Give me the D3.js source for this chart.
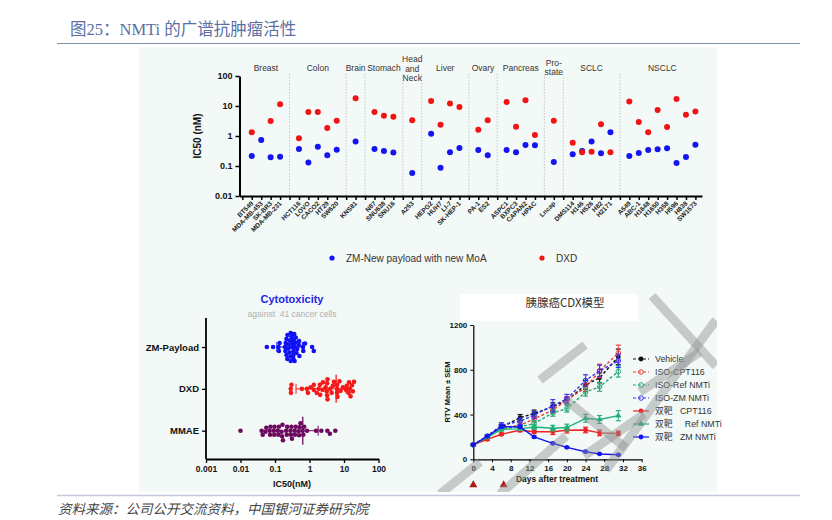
<!DOCTYPE html>
<html>
<head>
<meta charset="utf-8">
<script src="https://cdn.jsdelivr.net/npm/d3@7"></script>
<style>
  body { margin: 0; background: #fff; }
  svg { display: block; font-family: "Liberation Sans", Arial, sans-serif; }
  .pre { white-space: pre; }
</style>
</head>
<body>
<svg id="chart" width="832" height="520"></svg>
<script>
// ---- top panel: IC50 per cell line ----
var cellLines = ["BT549","MDA-MB-453","SK-BR3","MDA-MB-231","HCT116","LOVO","CACO2","HT29","SW620",
  "KNS81","N87","SNU638","SNU16","A253","HEPG2","HUH7","LI-7","SK-HEP-1","PA-1","ES2",
  "ASPC1","BXPC3","CAPAN2","HPAC","Lncap","DMS114","H146","H526","H82","H2171",
  "A549","ABC-1","H1648","H1650","H358","H596","H838","SW1573"];
var tumorTypes = ["Breast","Colon","Brain","Stomach","Head|and|Neck","Liver","Ovary","Pancreas","Pro-|state","SCLC","NSCLC"];
var linesPerType = [4,5,1,3,1,4,2,4,1,5,8];
var zmIC50 = [0.215,0.74,0.195,0.205, 0.37,0.13,0.44,0.227,0.35, 0.65, 0.37,0.316,0.28, 0.058,
  1.19,0.088,0.286,0.4, 0.34,0.23, 0.34,0.286,0.5,0.49, 0.136, 0.245,0.316,0.66,0.264,1.33,
  0.215,0.27,0.34,0.36,0.39,0.126,0.2,0.51];
var dxdIC50 = [1.33,null,3.16,11.4, 0.84,6.3,6.3,1.85,3.24, 18, 6.3,4.75,4.4, 3.33,
  14.7,2.38,12,9.3, 1.62,3.33, 13.6,2.04,15.5,1.08, 3.24, 0.6,0.29,0.3,2.45,0.286,
  14,2.93,1.33,7.4,2,17,5.1,6.5];
var ic50Ticks = [0.01,0.1,1,10,100];

// ---- bottom left: cytotoxicity swarm ----
var payloads = ["ZM-Payload","DXD","MMAE"];
var zmExtra = [0.25,0.3,0.42];
var dxdExtra = [0.9,4.0,8.0,19.5];
var mmaeIC50 = [0.01, 0.041,0.044, 0.053,0.056, 0.07,0.072,0.074, 0.092,0.095,0.097, 0.12,0.125,0.13,
  0.155,0.16,0.165,0.17, 0.21,0.22,0.225, 0.28,0.29,0.3,0.31, 0.37,0.38,0.4, 0.48,0.5,0.52,0.55,
  0.63,0.66,0.7, 0.85, 1.55, 2.2, 3.3, 3.9, 5.6];
var swarmTicks = [0.001,0.01,0.1,1,10,100];

// ---- bottom right: CDX model ----
var days = [0,3,6,10,13,17,20,24,27,31];
var dosingDays = [0,6.5];
var seriesNames = ["Vehicle.","ISO-CPT116","ISO-Ref NMTi","ISO-ZM NMTi","双靶   CPT116","双靶     Ref NMTi","双靶   ZM NMTi"];
var vehicle = [130,202,288,372,410,470,525,665,728,915];
var isoCpt  = [130,198,280,305,360,440,530,640,790,950];
var isoRef  = [130,195,272,290,320,415,452,600,648,785];
var isoZm   = [130,208,305,340,396,478,540,705,790,880];
var dualCpt = [130,178,224,260,246,246,260,262,236,232];
var dualRef = [130,196,268,272,288,278,284,366,356,390];
var dualZm  = [130,205,292,290,200,143,107,68,48,40];
var vehicleSem = [5,12,20,28,30,35,30,40,45,70];
var isoCptSem  = [5,10,15,20,25,30,30,35,60,70];
var isoRefSem  = [5,10,15,20,25,30,30,35,40,50];
var isoZmSem   = [5,12,22,30,30,55,40,50,50,60];
var dualCptSem = [5,10,12,15,15,25,25,25,25,20];
var dualRefSem = [5,10,15,15,20,25,30,35,35,45];
var dualZmSem  = [5,8,12,10,8,8,6,5,4,4];

var svg = d3.select('#chart');

// page header / footer
svg.append('text').attr('x', 70).attr('y', 35)
  .style('font-family', '"Liberation Serif", "Noto Sans CJK SC", serif')
  .style('font-size', '16.5px').attr('fill', '#5b6fa5')
  .text('图25：NMTi 的广谱抗肿瘤活性');
svg.append('line').attr('x1', 57).attr('x2', 800).attr('y1', 43.5).attr('y2', 43.5)
  .attr('stroke', '#7f8fb0').attr('stroke-width', 1.2);
svg.append('rect').attr('x', 139).attr('y', 47).attr('width', 578).attr('height', 445)
  .attr('fill', '#f3f9f6');
svg.append('line').attr('x1', 57).attr('x2', 800).attr('y1', 495.5).attr('y2', 495.5)
  .attr('stroke', '#c6c6dc').attr('stroke-width', 1.5);
svg.append('text').attr('x', 58).attr('y', 514)
  .style('font-family', '"Noto Sans CJK SC", sans-serif').style('font-style', 'italic')
  .style('font-size', '13.5px').attr('fill', '#444')
  .text('资料来源：公司公开交流资料，中国银河证券研究院');

drawTop();
drawSwarm();
drawCdx();
drawWatermark();

function drawTop() {
  // slot index per cell line, one blank slot between tumour types
  var slots = [], groups = [], s = 0;
  linesPerType.forEach(function(n, gi) {
    var first = s;
    for (var i = 0; i < n; i++) { slots.push(s); s++; }
    groups.push({ name: tumorTypes[gi], from: first, to: s - 1, sep: s });
    s++;
  });

  var x = d3.scaleLinear().domain([-1.3, 47.7]).range([239.5, 702]);
  var y = d3.scaleLog().domain([0.01, 100]).range([196, 76]);
  var g = svg.append('g');

  // dotted separators
  g.selectAll('line.sep').data(groups.slice(0, -1)).enter().append('line')
    .attr('x1', function(d) { return x(d.sep); }).attr('x2', function(d) { return x(d.sep); })
    .attr('y1', 74).attr('y2', 196)
    .attr('stroke', '#b8bcbc').attr('stroke-width', 0.8).attr('stroke-dasharray', '1.5,1.5');

  // tumour type labels
  g.selectAll('text.grp').data(groups).enter().append('text')
    .attr('text-anchor', 'middle').style('font-size', '8.5px').attr('fill', '#333')
    .each(function(d) {
      var parts = d.name.split('|');
      var y0 = parts.length === 3 ? 62 : parts.length === 2 ? 65.5 : 71;
      var t = d3.select(this);
      parts.forEach(function(p, i) {
        t.append('tspan').attr('x', x((d.from + d.to) / 2)).attr('y', y0 + i * 9.5).text(p);
      });
    });

  var yAxis = g.append('g').attr('transform', 'translate(' + x(-1.3) + ',0)')
    .call(d3.axisLeft(y).tickValues(ic50Ticks).tickFormat(function(d) { return String(d); }).tickSize(4).tickSizeOuter(0));
  yAxis.select('.domain').attr('stroke-width', 2);
  yAxis.selectAll('.tick line').attr('stroke-width', 1.5);
  yAxis.selectAll('.tick text').style('font-size', '9px').style('font-weight', 'bold').attr('fill', '#111');

  var xAxis = g.append('g').attr('transform', 'translate(0,196)')
    .call(d3.axisBottom(x).tickValues(d3.range(-1, 48)).tickFormat('').tickSize(4).tickSizeOuter(0));
  xAxis.select('.domain').attr('stroke-width', 2);
  xAxis.selectAll('.tick line').attr('stroke-width', 1.5);

  g.selectAll('text.cell').data(cellLines).enter().append('text')
    .attr('transform', function(d, i) { return 'translate(' + (x(slots[i]) + 2) + ',204) rotate(-45)'; })
    .attr('text-anchor', 'end').style('font-size', '6.5px').style('font-weight', 'bold').attr('fill', '#222')
    .text(function(d) { return d; });

  g.append('text').attr('transform', 'translate(201,136) rotate(-90)')
    .attr('text-anchor', 'middle').style('font-size', '10px').style('font-weight', 'bold').attr('fill', '#111')
    .text('IC50 (nM)');

  g.selectAll('circle.zm').data(zmIC50).enter().append('circle')
    .attr('cx', function(d, i) { return x(slots[i]); }).attr('cy', function(d) { return y(d); })
    .attr('r', 3).attr('fill', '#1414f0');
  g.selectAll('circle.dxd').data(dxdIC50.map(function(v, i) { return { v: v, i: i }; }).filter(function(d) { return d.v != null; }))
    .enter().append('circle')
    .attr('cx', function(d) { return x(slots[d.i]); }).attr('cy', function(d) { return y(d.v); })
    .attr('r', 3).attr('fill', '#f01414');

  // legend
  g.append('circle').attr('cx', 332).attr('cy', 258).attr('r', 2.6).attr('fill', '#1414f0');
  g.append('text').attr('x', 346).attr('y', 261.5).style('font-size', '10px').attr('fill', '#333').text('ZM-New payload with new MoA');
  g.append('circle').attr('cx', 542).attr('cy', 258).attr('r', 2.6).attr('fill', '#f01414');
  g.append('text').attr('x', 556).attr('y', 261.5).style('font-size', '10px').attr('fill', '#333').text('DXD');
}

function drawSwarm() {
  var x = d3.scaleLog().domain([0.001, 100]).range([206, 378.5]);
  var y = d3.scalePoint().domain(payloads).range([347, 430.7]);
  var colors = ['#1010f5', '#f51818', '#6b0a5e'];
  var sets = [
    zmIC50.concat(zmExtra),
    dxdIC50.filter(function(v) { return v != null; }).concat(dxdExtra),
    mmaeIC50
  ];
  var g = svg.append('g');
  var r = 2.3, gap = 3.9, maxOff = 14;

  g.append('text').attr('x', 292).attr('y', 303).attr('text-anchor', 'middle')
    .style('font-size', '11px').style('font-weight', 'bold').attr('fill', '#2424e6').text('Cytotoxicity');
  g.append('text').attr('x', 292).attr('y', 316.5).attr('text-anchor', 'middle')
    .style('font-size', '8.5px').attr('fill', '#b0b0b0').attr('class', 'pre').text('against  41 cancer cells');

  var yAxis = g.append('g').attr('transform', 'translate(206,0)')
    .call(d3.axisLeft(y).tickSize(4).tickPadding(3));
  yAxis.select('.domain').attr('d', 'M0,318V459').attr('stroke-width', 1.8);
  yAxis.selectAll('.tick line').attr('stroke-width', 1.3);
  yAxis.selectAll('.tick text').style('font-size', '9.5px').style('font-weight', 'bold').attr('fill', '#111');

  var xAxis = g.append('g').attr('transform', 'translate(0,459)')
    .call(d3.axisBottom(x).tickValues(swarmTicks).tickFormat(function(d) { return String(d); }).tickSize(4).tickSizeOuter(0));
  xAxis.select('.domain').attr('stroke-width', 1.8);
  xAxis.selectAll('.tick line').attr('stroke-width', 1.3);
  xAxis.selectAll('.tick text').style('font-size', '8.5px').style('font-weight', 'bold').attr('fill', '#111');
  g.append('text').attr('x', 292).attr('y', 487).attr('text-anchor', 'middle')
    .style('font-size', '9px').style('font-weight', 'bold').attr('fill', '#111').text('IC50(nM)');

  sets.forEach(function(vals, gi) {
    var cy = y(payloads[gi]);
    var pts = vals.map(function(v) { return { v: v, px: x(v) }; })
      .sort(function(a, b) { return a.px - b.px; });
    var placed = [];
    pts.forEach(function(p) {
      // smallest offset without overlap, else the least crowded one within the band
      var best = null, bestCost = Infinity;
      for (var step = 0; step <= maxOff * 4; step++) {
        var off = (step % 2 ? 1 : -1) * Math.ceil(step / 2) * 0.5;
        var cost = 0;
        placed.forEach(function(q) {
          var dx = q.px - p.px, dy = q.off - off, d2 = Math.sqrt(dx * dx + dy * dy);
          if (d2 < gap) cost += gap - d2;
        });
        if (cost === 0) { best = off; break; }
        if (cost < bestCost) { bestCost = cost; best = off; }
      }
      p.off = best;
      placed.push(p);
    });

    // mean with SD
    var m = d3.mean(vals), sd = d3.deviation(vals);
    var lo = m - sd > 0 ? m - sd : null;
    var hi = m + sd;
    var line = g.append('g').attr('stroke', colors[gi]).attr('stroke-width', 1);
    line.append('line').attr('x1', lo ? x(lo) : x(m)).attr('x2', x(hi)).attr('y1', cy).attr('y2', cy);
    line.append('line').attr('x1', x(m)).attr('x2', x(m)).attr('y1', cy - 14).attr('y2', cy + 14).attr('stroke-width', 1.3);
    if (lo) line.append('line').attr('x1', x(lo)).attr('x2', x(lo)).attr('y1', cy - 5).attr('y2', cy + 5);
    line.append('line').attr('x1', x(hi)).attr('x2', x(hi)).attr('y1', cy - 5).attr('y2', cy + 5);

    g.selectAll(null).data(placed).enter().append('circle')
      .attr('cx', function(d) { return d.px; }).attr('cy', function(d) { return cy + d.off; })
      .attr('r', r).attr('fill', colors[gi]);
  });
}

function drawCdx() {
  var x = d3.scaleLinear().domain([0, 36]).range([473.3, 641.7]);
  var y = d3.scaleLinear().domain([0, 1200]).range([459.3, 325]);
  var g = svg.append('g');

  g.append('rect').attr('x', 460).attr('y', 294).attr('width', 178).attr('height', 27).attr('fill', '#ffffff');
  g.append('text').attr('x', 565).attr('y', 307).attr('text-anchor', 'middle')
    .style('font-family', '"Noto Sans CJK SC", sans-serif').style('font-size', '11.5px').attr('fill', '#333')
    .text('胰腺癌CDX模型');

  var yAxis = g.append('g').attr('transform', 'translate(473.3,0)')
    .call(d3.axisLeft(y).tickValues([0, 400, 800, 1200]).tickFormat(d3.format('d')).tickSize(3).tickSizeOuter(0));
  yAxis.select('.domain').attr('stroke-width', 1.2);
  yAxis.selectAll('.tick text').style('font-size', '8px').style('font-weight', 'bold').attr('fill', '#111');
  var xAxis = g.append('g').attr('transform', 'translate(0,459.3)')
    .call(d3.axisBottom(x).tickValues(d3.range(0, 37, 4)).tickSize(3).tickSizeOuter(0));
  xAxis.select('.domain').attr('stroke-width', 1.2);
  xAxis.selectAll('.tick text').style('font-size', '8px').style('font-weight', 'bold').attr('fill', '#111');

  g.append('text').attr('x', 557).attr('y', 482).attr('text-anchor', 'middle')
    .style('font-size', '8.5px').style('font-weight', 'bold').attr('fill', '#111').text('Days after treatment');
  g.append('text').attr('transform', 'translate(450,392) rotate(-90)').attr('text-anchor', 'middle')
    .style('font-size', '7.5px').style('font-weight', 'bold').attr('fill', '#111').text('RTV Mean ± SEM');

  g.selectAll('path.dose').data(dosingDays).enter().append('path')
    .attr('d', d3.symbol().type(d3.symbolTriangle).size(28))
    .attr('transform', function(d) { return 'translate(' + x(d) + ',485)'; })
    .attr('fill', '#b01818');

  var series = [
    { v: vehicle, e: vehicleSem, c: '#111111', dash: '3,2', shape: 'dot', open: false },
    { v: isoCpt,  e: isoCptSem,  c: '#f23b3b', dash: '3,2', shape: 'dot', open: true },
    { v: isoRef,  e: isoRefSem,  c: '#23a874', dash: '3,2', shape: 'dot', open: true },
    { v: isoZm,   e: isoZmSem,   c: '#3434f0', dash: '3,2', shape: 'dot', open: true },
    { v: dualCpt, e: dualCptSem, c: '#ee2222', dash: null,  shape: 'dot', open: false },
    { v: dualRef, e: dualRefSem, c: '#20b07a', dash: null,  shape: 'tri', open: false },
    { v: dualZm,  e: dualZmSem,  c: '#1414ee', dash: null,  shape: 'dot', open: false }
  ];
  var line = d3.line().x(function(d, i) { return x(days[i]); }).y(function(d) { return y(d); });

  function marker(sel, s) {
    if (s.shape === 'tri') {
      sel.append('path').attr('d', d3.symbol().type(d3.symbolTriangle).size(18)).attr('fill', s.c);
    } else {
      sel.append('circle').attr('r', s.open ? 2.3 : 2.4)
        .attr('fill', s.open ? 'none' : s.c).attr('stroke', s.c).attr('stroke-width', s.open ? 1 : 0);
    }
  }

  series.forEach(function(s) {
    var sg = g.append('g');
    sg.append('path').datum(s.v).attr('d', line).attr('fill', 'none')
      .attr('stroke', s.c).attr('stroke-width', 1.4).attr('stroke-dasharray', s.dash);
    s.v.forEach(function(v, i) {
      var cx = x(days[i]);
      sg.append('line').attr('x1', cx).attr('x2', cx).attr('y1', y(v - s.e[i])).attr('y2', y(v + s.e[i]))
        .attr('stroke', s.c).attr('stroke-width', 1);
      [v - s.e[i], v + s.e[i]].forEach(function(b) {
        sg.append('line').attr('x1', cx - 2.5).attr('x2', cx + 2.5).attr('y1', y(b)).attr('y2', y(b))
          .attr('stroke', s.c).attr('stroke-width', 1.2);
      });
      marker(sg.append('g').attr('transform', 'translate(' + cx + ',' + y(v) + ')'), s);
    });
  });

  // legend
  series.forEach(function(s, i) {
    var ly = 359 + i * 13;
    g.append('line').attr('x1', 633).attr('x2', 649).attr('y1', ly).attr('y2', ly)
      .attr('stroke', s.c).attr('stroke-width', 1.2).attr('stroke-dasharray', s.dash);
    marker(g.append('g').attr('transform', 'translate(641,' + ly + ')'), s);
    g.append('text').attr('x', 655).attr('y', ly + 3).attr('class', 'pre')
      .style('font-family', '"Liberation Sans", "Noto Sans CJK SC", sans-serif')
      .style('font-size', '8.8px').attr('fill', '#333').text(seriesNames[i]);
  });
}

function drawWatermark() {
  // faint diagonal strokes of the source watermark, clipped to the figure area
  var strokes = [
    [[652, 296], [716, 366]], [[716, 320], [606, 470]], [[640, 392], [700, 352]],
    [[566, 400], [626, 448]], [[584, 456], [644, 414]], [[500, 494], [566, 436]],
    [[440, 494], [480, 462]], [[540, 380], [585, 345]]
  ];
  svg.append('clipPath').attr('id', 'wm').append('rect')
    .attr('x', 139).attr('y', 47).attr('width', 578).attr('height', 445);
  svg.append('g').attr('clip-path', 'url(#wm)')
    .selectAll('line').data(strokes).enter().append('line')
    .attr('x1', function(d) { return d[0][0]; }).attr('y1', function(d) { return d[0][1]; })
    .attr('x2', function(d) { return d[1][0]; }).attr('y2', function(d) { return d[1][1]; })
    .attr('stroke', '#8f9391').attr('stroke-opacity', 0.45).attr('stroke-width', 9);
}
</script>
</body>
</html>
